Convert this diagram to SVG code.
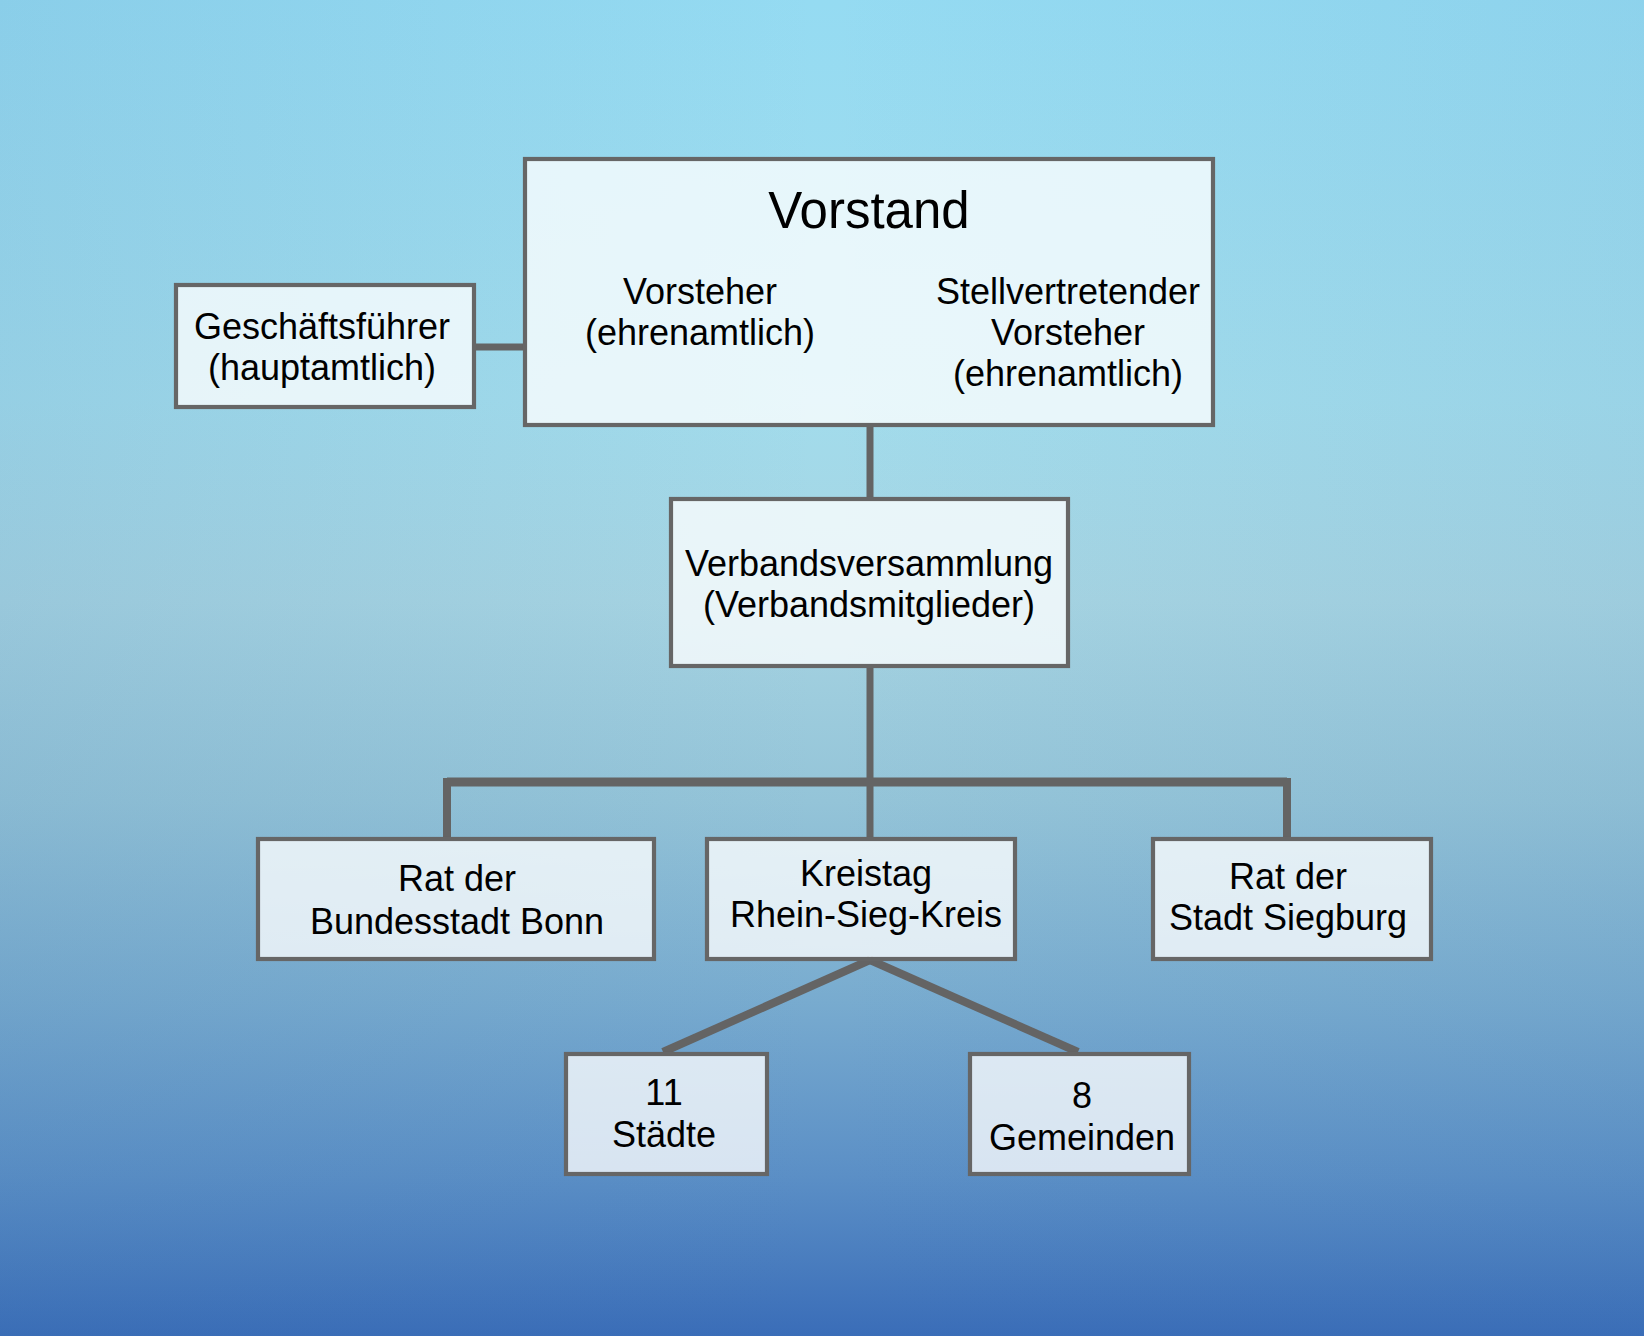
<svg xmlns="http://www.w3.org/2000/svg" width="1644" height="1336" viewBox="0 0 1644 1336">
<defs>
<linearGradient id="bg" x1="0" y1="0" x2="0" y2="1">
<stop offset="0" stop-color="#95dbf2"/>
<stop offset="0.3" stop-color="#a2dcec"/>
<stop offset="0.45" stop-color="#a6d4e2"/>
<stop offset="0.6" stop-color="#94c4d8"/>
<stop offset="0.75" stop-color="#78abcf"/>
<stop offset="0.88" stop-color="#5b8fc6"/>
<stop offset="1" stop-color="#3a6db8"/>
</linearGradient>
<linearGradient id="side" x1="0" y1="0" x2="1" y2="0">
<stop offset="0" stop-color="#3a70a8" stop-opacity="0.12"/>
<stop offset="0.5" stop-color="#3a70a8" stop-opacity="0"/>
<stop offset="1" stop-color="#3a70a8" stop-opacity="0.08"/>
</linearGradient>
</defs>
<style>
.box{fill:#ffffff;fill-opacity:0.76;stroke:#666666;stroke-width:4.2}
.t{font-family:"Liberation Sans",Arial,sans-serif;font-size:36px;fill:#000;text-anchor:middle}
.big{font-size:51px}
.c{stroke:#646464;fill:none;stroke-linecap:butt}
</style>
<rect x="0" y="0" width="1644" height="1336" fill="url(#bg)"/>
<rect x="0" y="0" width="1644" height="1336" fill="url(#side)"/>
<g id="connectors">
<line class="c" x1="474" y1="347" x2="525" y2="347" stroke-width="7"/>
<line class="c" x1="870" y1="425" x2="870" y2="499" stroke-width="7"/>
<line class="c" x1="870" y1="666" x2="870" y2="839" stroke-width="7"/>
<polyline class="c" points="447,839 447,782 1287,782 1287,839" stroke-width="8"/>
<line class="c" x1="447" y1="782" x2="1287" y2="782" stroke-width="9"/>
<line class="c" x1="870" y1="960" x2="663" y2="1052" stroke-width="8"/>
<line class="c" x1="870" y1="960" x2="1078" y2="1052" stroke-width="8"/>
</g>
<g id="vorstand">
<rect class="box" x="525" y="159" width="688" height="266"/>
<text class="t big" x="869" y="228">Vorstand</text>
<text class="t" x="700" y="304">Vorsteher</text>
<text class="t" x="700" y="345">(ehrenamtlich)</text>
<text class="t" x="1068" y="304">Stellvertretender</text>
<text class="t" x="1068" y="345">Vorsteher</text>
<text class="t" x="1068" y="386">(ehrenamtlich)</text>
</g>
<g id="geschaeftsfuehrer">
<rect class="box" x="176" y="285" width="298" height="122"/>
<text class="t" x="322" y="339">Geschäftsführer</text>
<text class="t" x="322" y="380">(hauptamtlich)</text>
</g>
<g id="verbandsversammlung">
<rect class="box" x="671" y="499" width="397" height="167"/>
<text class="t" x="869" y="576">Verbandsversammlung</text>
<text class="t" x="869" y="617">(Verbandsmitglieder)</text>
</g>
<g id="bonn">
<rect class="box" x="258" y="839" width="396" height="120"/>
<text class="t" x="457" y="891">Rat der</text>
<text class="t" x="457" y="934">Bundesstadt Bonn</text>
</g>
<g id="kreistag">
<rect class="box" x="707" y="839" width="308" height="120"/>
<text class="t" x="866" y="886">Kreistag</text>
<text class="t" x="866" y="927">Rhein-Sieg-Kreis</text>
</g>
<g id="siegburg">
<rect class="box" x="1153" y="839" width="278" height="120"/>
<text class="t" x="1288" y="889">Rat der</text>
<text class="t" x="1288" y="930">Stadt Siegburg</text>
</g>
<g id="staedte">
<rect class="box" x="566" y="1054" width="201" height="120"/>
<text class="t" x="664" y="1105">11</text>
<text class="t" x="664" y="1147">Städte</text>
</g>
<g id="gemeinden">
<rect class="box" x="970" y="1054" width="219" height="120"/>
<text class="t" x="1082" y="1108">8</text>
<text class="t" x="1082" y="1150">Gemeinden</text>
</g>
</svg>
